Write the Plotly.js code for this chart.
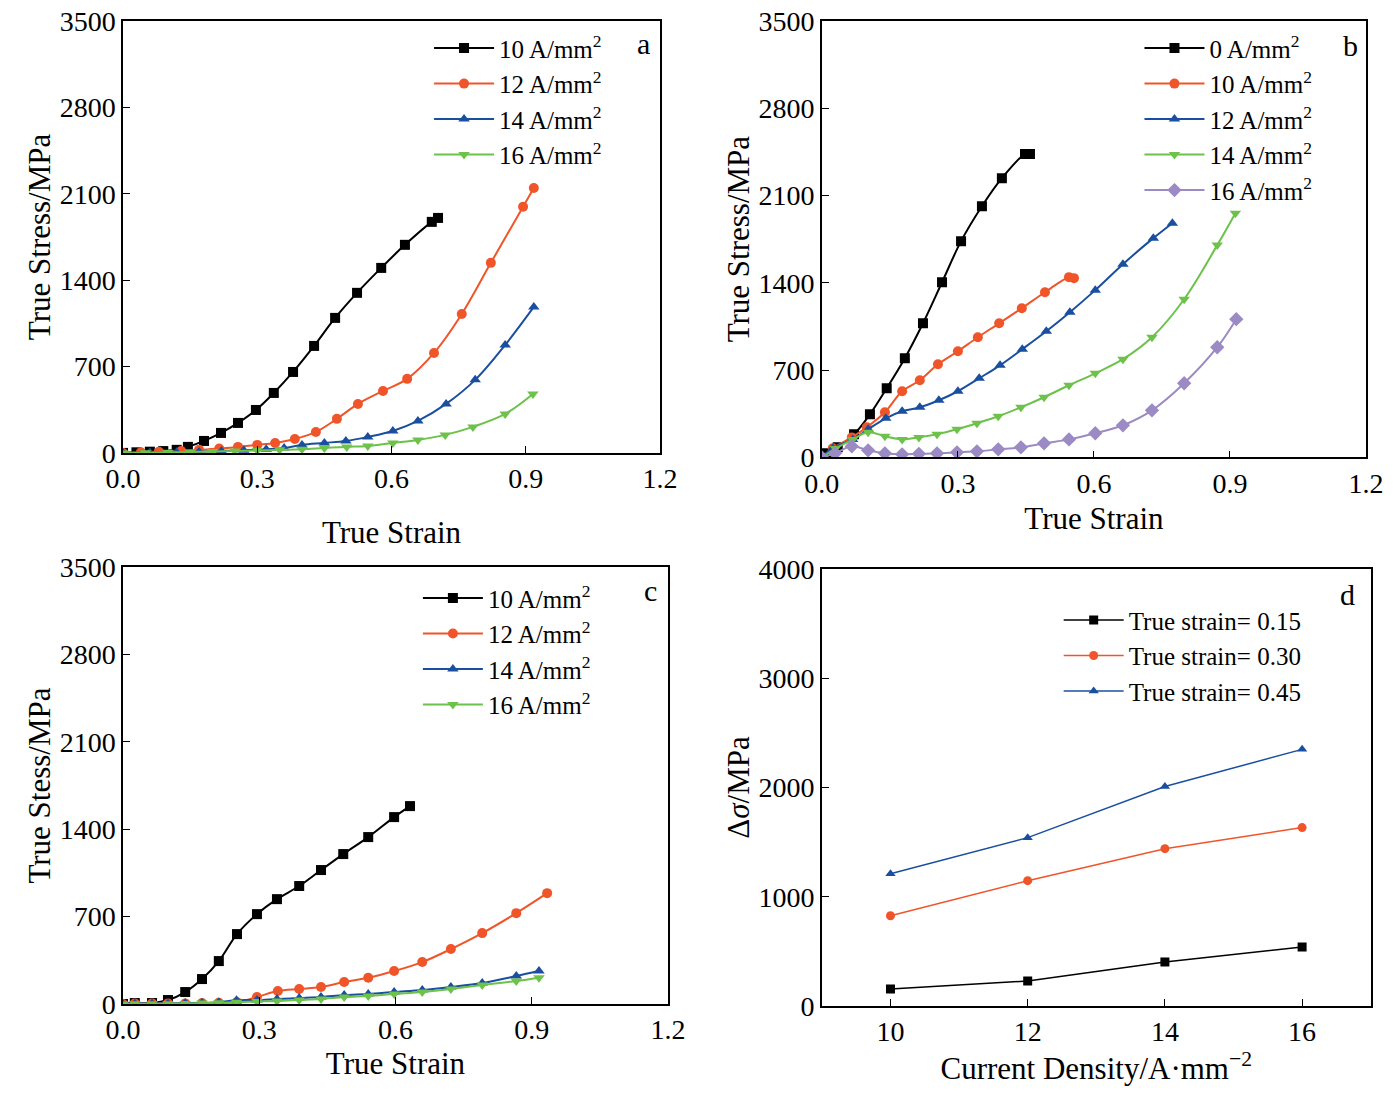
<!DOCTYPE html>
<html><head><script src="https://cdn.plot.ly/plotly-3.0.1.min.js"></script></head>
<body style="margin:0"><div id="c" style="width:1393px;height:1102px"></div>
<script>
const a10x=[0,0.03,0.06,0.09,0.12,0.145,0.181,0.219,0.257,0.297,0.337,0.380,0.427,0.474,0.523,0.577,0.630,0.690,0.704];
const a10y=[0,5,10,15,25,49,97,162,243,348,486,656,867,1094,1297,1499,1686,1872,1904];
const a12x=[0,0.04,0.08,0.13,0.17,0.215,0.257,0.30,0.340,0.384,0.431,0.478,0.525,0.581,0.635,0.695,0.757,0.822,0.894,0.918];
const a12y=[0,5,10,15,25,35,49,65,81,113,170,276,397,502,600,810,1126,1540,1994,2147];
const a14x=[0,0.06,0.12,0.17,0.22,0.27,0.32,0.36,0.40,0.45,0.498,0.547,0.603,0.659,0.722,0.787,0.854,0.918];
const a14y=[0,3,5,10,15,22,30,40,65,81,97,130,178,259,397,592,875,1183];
const a16x=[0,0.05,0.1,0.15,0.2,0.25,0.30,0.35,0.40,0.45,0.50,0.547,0.603,0.659,0.72,0.782,0.854,0.916];
const a16y=[0,2,5,8,12,15,20,25,30,40,49,57,81,105,146,211,316,478];

const b0x=[0,0.011,0.035,0.071,0.106,0.143,0.183,0.223,0.265,0.307,0.353,0.397,0.448,0.459];
const b0y=[0,32,80,185,345,554,795,1075,1404,1734,2014,2239,2432,2432];
const b10x=[0,0.024,0.066,0.099,0.139,0.177,0.216,0.256,0.300,0.344,0.391,0.441,0.492,0.545,0.556];
const b10y=[0,72,160,241,361,530,618,746,851,963,1075,1196,1324,1445,1437];
const b12x=[0,0.024,0.068,0.102,0.141,0.177,0.216,0.258,0.300,0.347,0.393,0.442,0.495,0.547,0.603,0.664,0.731,0.773];
const b12y=[0,72,144,225,313,369,401,458,530,634,738,867,1011,1164,1341,1549,1758,1878];
const b14x=[0,0.03,0.068,0.102,0.139,0.177,0.214,0.254,0.298,0.342,0.389,0.439,0.490,0.545,0.603,0.664,0.728,0.799,0.872,0.912];
const b14y=[0,70,144,201,169,144,160,185,225,273,329,401,482,578,674,787,963,1268,1702,1958];
const b16x=[0,0.029,0.066,0.102,0.139,0.177,0.214,0.254,0.298,0.342,0.389,0.439,0.490,0.545,0.603,0.664,0.728,0.799,0.872,0.914];
const b16y=[0,32,88,56,32,24,28,32,40,48,64,80,112,144,193,257,377,594,883,1108];

const c10x=[0,0.026,0.064,0.099,0.137,0.174,0.211,0.251,0.295,0.339,0.388,0.436,0.485,0.540,0.597,0.632];
const c10y=[0,8,8,32,96,200,344,560,720,840,945,1073,1201,1337,1497,1585];
const c12x=[0,0.026,0.064,0.099,0.137,0.174,0.211,0.251,0.295,0.341,0.388,0.436,0.487,0.540,0.597,0.659,0.722,0.791,0.866,0.934];
const c12y=[0,5,5,5,5,8,10,15,56,104,120,136,176,210,264,336,440,568,728,888];
const c14x=[0,0.026,0.064,0.099,0.137,0.174,0.211,0.25,0.295,0.339,0.388,0.436,0.487,0.540,0.597,0.659,0.722,0.791,0.866,0.916];
const c14y=[0,5,5,5,8,10,15,30,32,40,48,56,72,80,96,112,136,168,224,264];
const c16x=[0,0.026,0.064,0.099,0.137,0.174,0.211,0.25,0.295,0.339,0.388,0.436,0.487,0.540,0.597,0.659,0.722,0.791,0.866,0.916];
const c16y=[0,3,3,3,5,8,10,15,20,24,32,40,56,64,80,96,120,152,184,210];

const dX=[10,12,14,16];
const d15=[155,229,403,541];
const d30=[826,1147,1440,1633];
const d45=[1211,1541,2009,2349];

const K='#000000',R='#f0552a',B='#1a4fa0',G='#6cc24a',P='#9b8ac4';
const F='Liberation Serif';
const mA=(n)=>n+' A/mm<sup>2</sup>';
function tr(x,y,name,col,sym,xa,ya,lg){return {x,y,name,type:'scatter',mode:'lines+markers',xaxis:xa,yaxis:ya,legend:lg,
 line:{color:col,width:2,shape:'spline'},marker:{color:col,symbol:sym,size:sym==='diamond'?11:10}};}
const data=[
 tr(a10x,a10y,mA(10),K,'square','x','y','legend'),
 tr(a12x,a12y,mA(12),R,'circle','x','y','legend'),
 tr(a14x,a14y,mA(14),B,'triangle-up','x','y','legend'),
 tr(a16x,a16y,mA(16),G,'triangle-down','x','y','legend'),
 tr(b0x,b0y,mA(0),K,'square','x2','y2','legend2'),
 tr(b10x,b10y,mA(10),R,'circle','x2','y2','legend2'),
 tr(b12x,b12y,mA(12),B,'triangle-up','x2','y2','legend2'),
 tr(b14x,b14y,mA(14),G,'triangle-down','x2','y2','legend2'),
 tr(b16x,b16y,mA(16),P,'diamond','x2','y2','legend2'),
 tr(c10x,c10y,mA(10),K,'square','x3','y3','legend3'),
 tr(c12x,c12y,mA(12),R,'circle','x3','y3','legend3'),
 tr(c14x,c14y,mA(14),B,'triangle-up','x3','y3','legend3'),
 tr(c16x,c16y,mA(16),G,'triangle-down','x3','y3','legend3'),
];
const dd=[[d15,'True strain= 0.15',K,'square'],[d30,'True strain= 0.30',R,'circle'],[d45,'True strain= 0.45',B,'triangle-up']];
dd.forEach(([y,n,c,s])=>{const t=tr(dX,y,n,c,s,'x4','y4','legend4');t.line.shape='linear';t.line.width=1.5;t.marker.size=9;data.push(t);});

const ax=(dom,anchor,extra)=>Object.assign({domain:dom,anchor,showline:true,mirror:true,linecolor:'#000',linewidth:1.5,
 ticks:'inside',ticklen:7,tickcolor:'#000',showgrid:false,zeroline:false,tickfont:{family:F,size:28,color:'#000'}},extra);
const st=(t)=>({text:t,font:{family:F,size:31,color:'#000'}});
const xs={range:[0,1.2],tickvals:[0,0.3,0.6,0.9,1.2],tickformat:'.1f'};
const ys={range:[0,3500],tickvals:[0,700,1400,2100,2800,3500]};
const lg=(x,y)=>({x,y,xanchor:'left',yanchor:'top',bgcolor:'rgba(0,0,0,0)',font:{family:F,size:25,color:'#000'},itemwidth:60,tracegroupgap:0});
const layout={width:1393,height:1102,margin:{l:0,r:0,t:0,b:0},paper_bgcolor:'#fff',plot_bgcolor:'#fff',
 xaxis:ax([0.0883,0.4738],'y',Object.assign({title:Object.assign(st('True Strain'),{standoff:28})},xs)),
 yaxis:ax([0.589,0.981],'x',Object.assign({title:st('True Stress/MPa')},ys)),
 xaxis2:ax([0.590,0.9806],'y2',Object.assign({title:Object.assign(st('True Strain'),{standoff:10})},xs)),
 yaxis2:ax([0.585,0.981],'x2',Object.assign({title:st('True Stress/MPa')},ys)),
 xaxis3:ax([0.0883,0.4795],'y3',Object.assign({title:Object.assign(st('True Strain'),{standoff:8})},xs)),
 yaxis3:ax([0.0889,0.4855],'x3',Object.assign({title:st('True Stess/MPa')},ys)),
 xaxis4:ax([0.590,0.984],'y4',{range:[9,17],tickvals:[10,12,14,16],title:Object.assign(st('Current Density/A·mm<sup>−2</sup>'),{standoff:8})}),
 yaxis4:ax([0.0871,0.4837],'x4',{range:[0,4000],tickvals:[0,1000,2000,3000,4000],title:st('Δ<i>σ</i>/MPa')}),
 legend:lg(0.308,0.977),legend2:lg(0.818,0.977),legend3:lg(0.300,0.478),legend4:lg(0.760,0.458),
 showlegend:true,
 annotations:[['a',643,43],['b',1350,45],['c',650,590],['d',1347,594]].map(([t,x,y])=>({text:t,x:x/1393,y:1-y/1102,xref:'paper',yref:'paper',xanchor:'center',yanchor:'middle',showarrow:false,font:{family:F,size:30,color:'#000'}}))
};
Plotly.newPlot('c',data,layout,{displayModeBar:false});
</script></body></html>
